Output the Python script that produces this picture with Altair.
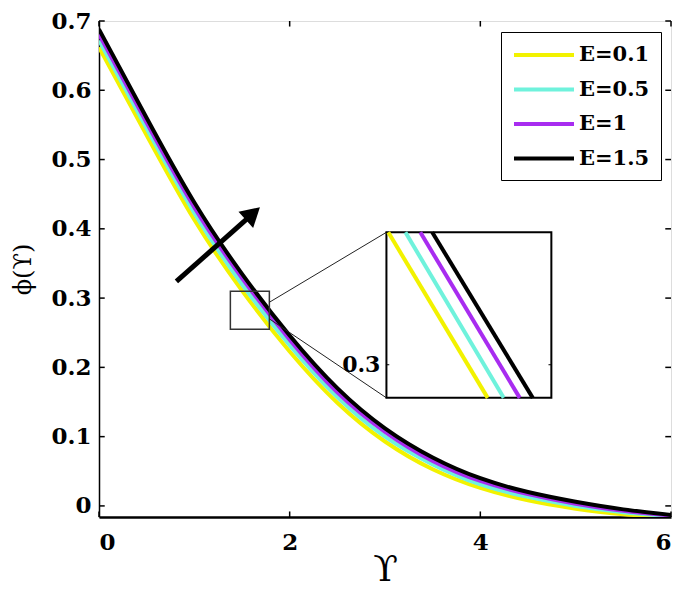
import altair as alt
import pandas as pd

# ---------------- data ----------------
X = [0.0, 0.5, 1.0, 1.5, 2.0, 2.5, 3.0, 3.5, 4.0, 4.5, 5.0, 5.5, 6.0]
SERIES = ["E=0.1", "E=0.5", "E=1", "E=1.5"]
COLORS = ["#F2F200", "#6FF2DC", "#A82CF0", "#000000"]

PHI_E01 = [0.662, 0.535, 0.413, 0.311, 0.223, 0.149, 0.093, 0.053, 0.026, 0.008, -0.004, -0.012, -0.016]
PHI_E05 = [0.672, 0.545, 0.423, 0.320, 0.232, 0.157, 0.100, 0.060, 0.031, 0.013, 0.000, -0.009, -0.015]
PHI_E1 = [0.681, 0.553, 0.431, 0.329, 0.240, 0.164, 0.107, 0.065, 0.036, 0.017, 0.003, -0.007, -0.014]
PHI_E15 = [0.688, 0.560, 0.438, 0.335, 0.246, 0.170, 0.112, 0.070, 0.040, 0.020, 0.006, -0.005, -0.013]

X_TICKS = [0, 2, 4, 6]
Y_TICKS = [0.0, 0.1, 0.2, 0.3, 0.4, 0.5, 0.6, 0.7]
X_DOMAIN = [0, 6]
Y_DOMAIN = [-0.016, 0.7]

# zoom box drawn on the main plot (data units)
ZOOM_BOX_X = [1.378, 1.787]
ZOOM_BOX_Y = [0.255, 0.310]

# inset: its own data window and where it sits on the main plot
INSET_DOMAIN_X = [1.357, 1.80]
INSET_DOMAIN_Y = [0.29, 0.34]
INSET_BOX_X = [3.015, 4.745]
INSET_BOX_Y = [0.156, 0.395]
INSET_Y_TOP = 0.34
INSET_Y_BOTTOM = 0.29
INSET_X_AT_TOP = [1.362, 1.408, 1.448, 1.480]
INSET_X_AT_BOTTOM = [1.629, 1.672, 1.715, 1.750]
INSET_TICK = [0.3]

# connector lines: start on the zoom box edge (y), end on inset corners
CONNECT_FROM_Y = [0.294, 0.270]

# arrow (data units)
ARROW_FROM = [0.812, 0.324]
ARROW_TO = [1.614, 0.422]

SERIF = "DejaVu Serif"

# ---------------- tables ----------------
curves = pd.DataFrame(
    [
        {"x": x, "y": v, "E": s, "k": i}
        for i, (s, vals) in enumerate(zip(SERIES, [PHI_E01, PHI_E05, PHI_E1, PHI_E15]))
        for x, v in zip(X, vals)
    ]
)


def map_x(v):
    return INSET_BOX_X[0] + (v - INSET_DOMAIN_X[0]) / (INSET_DOMAIN_X[1] - INSET_DOMAIN_X[0]) * (
        INSET_BOX_X[1] - INSET_BOX_X[0]
    )


def map_y(v):
    return INSET_BOX_Y[0] + (v - INSET_DOMAIN_Y[0]) / (INSET_DOMAIN_Y[1] - INSET_DOMAIN_Y[0]) * (
        INSET_BOX_Y[1] - INSET_BOX_Y[0]
    )


inset_lines = pd.DataFrame(
    [
        row
        for i, s in enumerate(SERIES)
        for row in (
            {"x": map_x(INSET_X_AT_TOP[i]), "y": map_y(INSET_Y_TOP), "E": s, "k": i, "o": 0},
            {"x": map_x(INSET_X_AT_BOTTOM[i]), "y": map_y(INSET_Y_BOTTOM), "E": s, "k": i, "o": 1},
        )
    ]
)

xs = alt.Scale(domain=X_DOMAIN, nice=False, zero=False)
ys = alt.Scale(domain=Y_DOMAIN, nice=False, zero=False)
cs = alt.Scale(domain=SERIES, range=COLORS)

x_axis = alt.Axis(
    values=X_TICKS, format="~g", title="ϒ", grid=False, ticks=False,
    labelFont=SERIF, labelFontWeight="bold", labelFontSize=23, labelPadding=14, labelColor="black",
    titleFont=SERIF, titleFontWeight="normal", titleFontSize=36, titleColor="black",
    titleY=52, titleBaseline="middle",
    domainColor="black", domainWidth=2.5,
)
y_axis = alt.Axis(
    values=Y_TICKS, format=".1~f", title="ϕ(ϒ)", grid=False, ticks=False,
    labelFont=SERIF, labelFontWeight="bold", labelFontSize=23, labelPadding=8, labelColor="black",
    titleFont=SERIF, titleFontWeight="normal", titleFontSize=24, titleColor="black",
    titleX=-76, titleBaseline="middle",
    domainColor="black", domainWidth=1.5,
)

XE = alt.X("x:Q", scale=xs, axis=x_axis)
YE = alt.Y("y:Q", scale=ys, axis=y_axis)

legend = alt.Legend(
    title=None, orient="none", legendX=402, legendY=11,
    symbolType="M-3,0H3", symbolSize=400, symbolStrokeWidth=4,
    symbolOffset=20, labelOffset=23,
    labelFont=SERIF, labelFontWeight="bold", labelFontSize=21, labelColor="black",
    rowPadding=12.5, padding=11, strokeColor="black", fillColor="white",
)

lines = [
    alt.Chart(curves[curves["k"] == i]).mark_line(strokeWidth=4, interpolate="natural", clip=True).encode(
        x=XE, y=YE,
        color=alt.Color("E:N", scale=cs, legend=legend),
    )
    for i in range(len(SERIES))
]

# inward ticks (MATLAB box style)
tick_rows = []
for t in Y_TICKS:
    tick_rows.append({"x": X_DOMAIN[0], "x2": X_DOMAIN[0] + 0.06, "y": t, "y2": t})
    tick_rows.append({"x": X_DOMAIN[1], "x2": X_DOMAIN[1] - 0.06, "y": t, "y2": t})
for t in X_TICKS:
    tick_rows.append({"x": t, "x2": t, "y": Y_DOMAIN[0], "y2": Y_DOMAIN[0] + 0.008})
    tick_rows.append({"x": t, "x2": t, "y": Y_DOMAIN[1], "y2": Y_DOMAIN[1] - 0.008})
ticks = alt.Chart(pd.DataFrame(tick_rows)).mark_rule(color="black", strokeWidth=1.5).encode(
    x=XE, x2="x2:Q", y=YE, y2="y2:Q",
)

zoom_box = alt.Chart(
    pd.DataFrame([{"x": ZOOM_BOX_X[0], "x2": ZOOM_BOX_X[1], "y": ZOOM_BOX_Y[0], "y2": ZOOM_BOX_Y[1]}])
).mark_rect(fillOpacity=0, stroke="#333333", strokeWidth=1.5).encode(
    x=XE, x2="x2:Q", y=YE, y2="y2:Q",
)

connectors = alt.Chart(
    pd.DataFrame(
        [
            {"x": ZOOM_BOX_X[1], "y": CONNECT_FROM_Y[0], "x2": INSET_BOX_X[0], "y2": INSET_BOX_Y[1]},
            {"x": ZOOM_BOX_X[1], "y": CONNECT_FROM_Y[1], "x2": INSET_BOX_X[0], "y2": INSET_BOX_Y[0]},
        ]
    )
).mark_rule(color="#222222", strokeWidth=1).encode(
    x=XE, x2="x2:Q", y=YE, y2="y2:Q",
)

inset_bg = alt.Chart(
    pd.DataFrame([{"x": INSET_BOX_X[0], "x2": INSET_BOX_X[1], "y": INSET_BOX_Y[0], "y2": INSET_BOX_Y[1]}])
).mark_rect(fill="white", stroke="black", strokeWidth=2).encode(
    x=XE, x2="x2:Q", y=YE, y2="y2:Q",
)

inset_curves = [
    alt.Chart(inset_lines[inset_lines["k"] == i]).mark_line(strokeWidth=4).encode(
        x=XE, y=YE,
        color=alt.Color("E:N", scale=cs, legend=legend),
        order="o:Q",
    )
    for i in range(len(SERIES))
]

inset_tick_rows = []
for t in INSET_TICK:
    inset_tick_rows.append({"x": INSET_BOX_X[0], "x2": INSET_BOX_X[0] + 0.03, "y": map_y(t), "label": f"{t:g}"})
    inset_tick_rows.append({"x": INSET_BOX_X[1], "x2": INSET_BOX_X[1] - 0.03, "y": map_y(t), "label": ""})
inset_ticks_df = pd.DataFrame(inset_tick_rows)
inset_ticks = alt.Chart(inset_ticks_df).mark_rule(color="black", strokeWidth=1).encode(
    x=XE, x2="x2:Q", y=YE,
)
inset_labels = alt.Chart(inset_ticks_df).mark_text(
    align="right", baseline="middle", dx=-6, font=SERIF, fontWeight="bold", fontSize=22, color="black"
).encode(
    x=XE, y=YE, text="label:N",
)

arrow_shaft = alt.Chart(
    pd.DataFrame([{"x": ARROW_FROM[0], "y": ARROW_FROM[1], "x2": ARROW_TO[0], "y2": ARROW_TO[1]}])
).mark_rule(color="black", strokeWidth=5).encode(
    x=XE, x2="x2:Q", y=YE, y2="y2:Q",
)
arrow_head = alt.Chart(pd.DataFrame([{"x": ARROW_TO[0], "y": ARROW_TO[1]}])).mark_point(
    shape="triangle-up", filled=True, size=480, angle=48, color="black", opacity=1
).encode(
    x=XE, y=YE,
)

chart = alt.layer(
    *lines, ticks, zoom_box, connectors, inset_bg, *inset_curves, inset_ticks, inset_labels,
    arrow_shaft, arrow_head,
).properties(
    width=572,
    height=496,
    autosize=alt.AutoSizeParams(type="none"),
    padding={"left": 91, "top": 13, "right": 5, "bottom": 75},
).configure_view(
    stroke="black", strokeWidth=1.5
).configure(background="white")

chart.save("out.html", embed_options={"renderer": "svg", "actions": False})
